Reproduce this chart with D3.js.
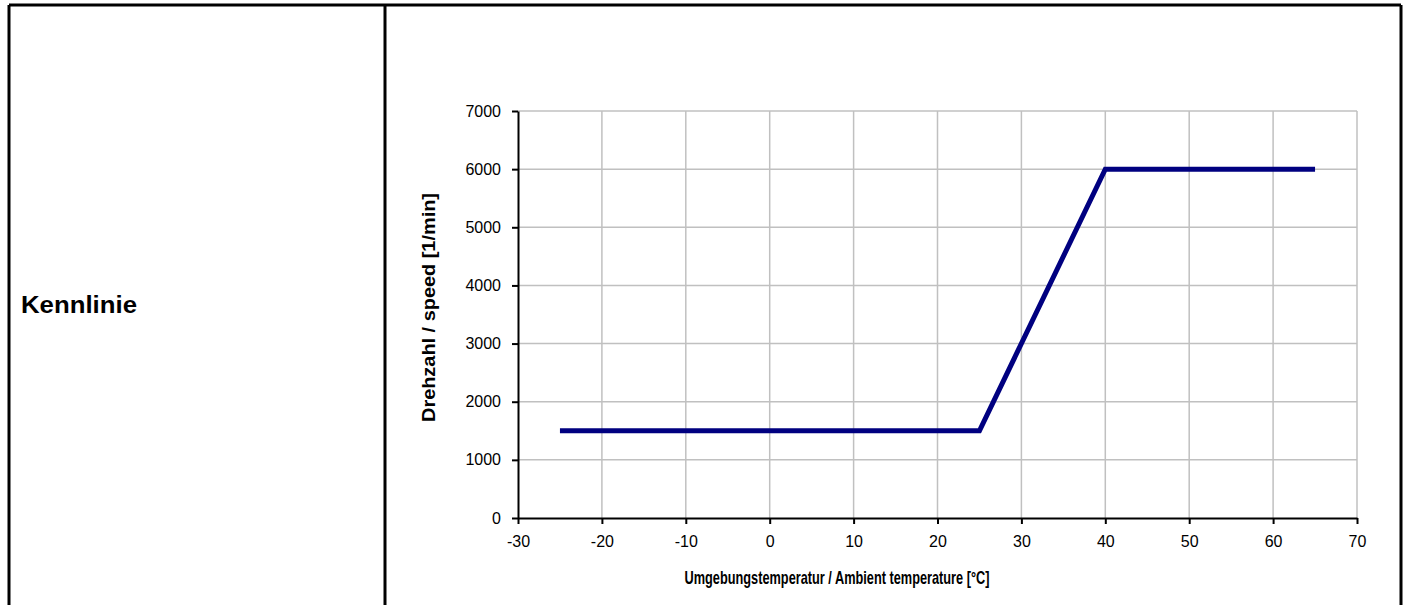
<!DOCTYPE html>
<html lang="en">
<head>
  <meta charset="UTF-8" />
  <title>Kennlinie</title>
  <script src="https://d3js.org/d3.v7.min.js"></script>
  <style>
    body { margin: 0; background: #fff; font-family: "Liberation Sans", Arial, sans-serif; }
    svg { display: block; }
    .axis-title { font-weight: bold; font-size: 19px; }
  </style>
</head>
<body>
  <svg id="chart" width="1407" height="605"></svg>
  <script>
    // data
    const temps = [-25, 25, 40, 65];
    const speeds = [1500, 1500, 6000, 6000];
    const xTicks = [-30, -20, -10, 0, 10, 20, 30, 40, 50, 60, 70];
    const yTicks = [0, 1000, 2000, 3000, 4000, 5000, 6000, 7000];

    const svg = d3.select("#chart");

    // table frame
    const frame = svg.append("g").attr("stroke", "#000").attr("stroke-width", 3);
    frame.append("line").attr("x1", 9).attr("x2", 9).attr("y1", 5).attr("y2", 605);
    frame.append("line").attr("x1", 1401).attr("x2", 1401).attr("y1", 5).attr("y2", 605);
    frame.append("line").attr("x1", 9).attr("x2", 1401).attr("y1", 5).attr("y2", 5);
    frame.append("line").attr("x1", 385).attr("x2", 385).attr("y1", 5).attr("y2", 605);

    svg.append("text")
      .attr("x", 21).attr("y", 313)
      .attr("font-weight", "bold")
      .attr("font-size", 23)
      .attr("textLength", 116).attr("lengthAdjust", "spacingAndGlyphs")
      .text("Kennlinie");

    const x = d3.scaleLinear().domain([-30, 70]).range([518, 1357]);
    const y = d3.scaleLinear().domain([0, 7000]).range([518, 111]);

    // grid
    const grid = svg.append("g").attr("stroke", "#c0c0c0").attr("stroke-width", 1.5);
    grid.selectAll("line.v").data(xTicks.slice(1)).join("line")
      .attr("class", "v")
      .attr("x1", d => x(d)).attr("x2", d => x(d))
      .attr("y1", y(7000)).attr("y2", y(0));
    grid.selectAll("line.h").data(yTicks.slice(1)).join("line")
      .attr("class", "h")
      .attr("x1", x(-30)).attr("x2", x(70))
      .attr("y1", d => y(d)).attr("y2", d => y(d));

    // axes
    const fmt = d => String(d);
    const xAxis = svg.append("g")
      .attr("transform", `translate(0,${y(0)})`)
      .call(d3.axisBottom(x).tickValues(xTicks).tickFormat(fmt).tickSize(6).tickPadding(12).tickSizeOuter(0));
    const yAxis = svg.append("g")
      .attr("transform", `translate(${x(-30)},0)`)
      .call(d3.axisLeft(y).tickValues(yTicks).tickFormat(fmt).tickSize(6).tickPadding(11).tickSizeOuter(0));
    [xAxis, yAxis].forEach(a => {
      a.attr("font-family", "Liberation Sans, Arial, sans-serif").attr("font-size", 16);
      a.select(".domain").attr("stroke", "#000").attr("stroke-width", 2);
      a.selectAll(".tick line").attr("stroke", "#000").attr("stroke-width", 2);
      a.selectAll(".tick text").attr("fill", "#000");
    });

    // series
    const line = d3.line().x((d, i) => x(temps[i])).y(d => y(d));
    svg.append("path")
      .datum(speeds)
      .attr("d", line)
      .attr("fill", "none")
      .attr("stroke", "#000080")
      .attr("stroke-width", 5);

    // titles
    svg.append("text")
      .attr("class", "axis-title")
      .attr("x", 837).attr("y", 584)
      .attr("text-anchor", "middle")
      .attr("textLength", 305).attr("lengthAdjust", "spacingAndGlyphs")
      .text("Umgebungstemperatur / Ambient temperature [°C]");

    svg.append("text")
      .attr("class", "axis-title")
      .attr("transform", `translate(435,${(193 + 422) / 2}) rotate(-90)`)
      .attr("text-anchor", "middle")
      .attr("textLength", 229).attr("lengthAdjust", "spacingAndGlyphs")
      .text("Drehzahl / speed [1/min]");
  </script>
</body>
</html>
